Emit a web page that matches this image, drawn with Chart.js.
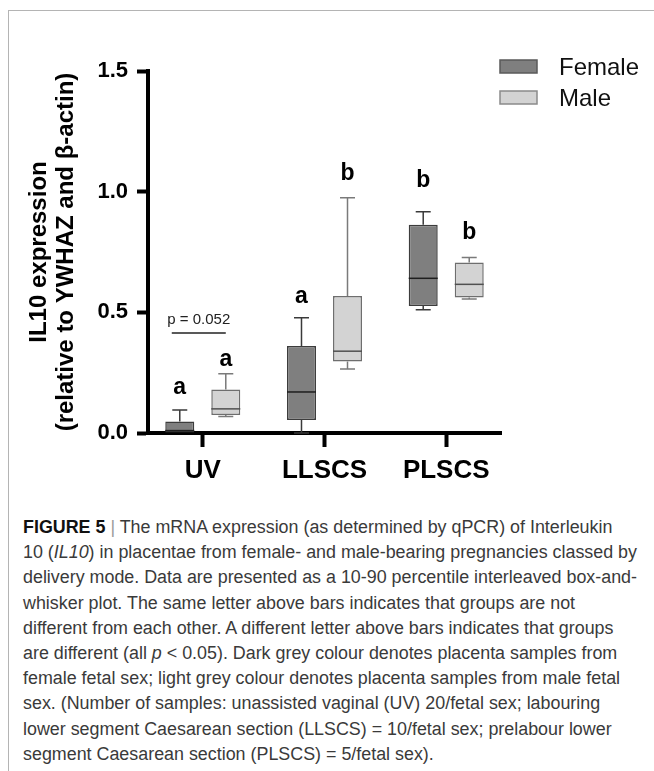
<!DOCTYPE html>
<html>
<head>
<meta charset="utf-8">
<script src="https://cdn.jsdelivr.net/npm/chart.js@4.4.0/dist/chart.umd.min.js"></script>
<style>
  body { margin: 0; background: #fff; width: 654px; height: 771px; overflow: hidden; position: relative;
         font-family: "Liberation Sans", Arial, sans-serif; }
  #frame { position: absolute; left: 8px; top: 10px; width: 700px; height: 800px;
           border-top: 1px solid #b4b4b4; border-left: 1px solid #b4b4b4; }
  #il10Chart { position: absolute; left: 0; top: 0; }
  #caption { position: absolute; left: 23px; top: 515px; font-size: 18px; line-height: 25.2px;
             color: #3a3a3a; transform-origin: 0 0; white-space: nowrap; }
  #caption div { width: max-content; }
  #caption b { color: #111; }
  #caption .sep { color: #999; }
</style>
</head>
<body>
<div id="frame"></div>
<canvas id="il10Chart" width="654" height="483"></canvas>
<div id="caption">
  <div><b>FIGURE 5</b> <span class="sep">|</span> The mRNA expression (as determined by qPCR) of Interleukin</div>
  <div>10 (<i>IL10</i>) in placentae from female- and male-bearing pregnancies classed by</div>
  <div>delivery mode. Data are presented as a 10-90 percentile interleaved box-and-</div>
  <div>whisker plot. The same letter above bars indicates that groups are not</div>
  <div>different from each other. A different letter above bars indicates that groups</div>
  <div>are different (all <i>p</i> &lt; 0.05). Dark grey colour denotes placenta samples from</div>
  <div>female fetal sex; light grey colour denotes placenta samples from male fetal</div>
  <div>sex. (Number of samples: unassisted vaginal (UV) 20/fetal sex; labouring</div>
  <div>lower segment Caesarean section (LLSCS) = 10/fetal sex; prelabour lower</div>
  <div>segment Caesarean section (PLSCS) = 5/fetal sex).</div>
</div>

<script type="text/JavaScript">

//------------------------------------------------------------------------------------------
// Data (10-90 percentile box-and-whisker, read off the figure)
//------------------------------------------------------------------------------------------

var categories = ["UV", "LLSCS", "PLSCS"];
var yTicks = [0, 0.5, 1.0, 1.5];

var femaleP10    = [0.000, 0.000, 0.511];
var femaleQ1     = [0.000, 0.054, 0.526];
var femaleMedian = [0.010, 0.170, 0.641];
var femaleQ3     = [0.048, 0.360, 0.863];
var femaleP90    = [0.095, 0.478, 0.917];

var maleP10    = [0.068, 0.265, 0.555];
var maleQ1     = [0.075, 0.296, 0.561];
var maleMedian = [0.100, 0.339, 0.616];
var maleQ3     = [0.180, 0.568, 0.707];
var maleP90    = [0.245, 0.975, 0.727];

// significance letters and the height (in y units) they sit at
var femaleLetters = ["a", "a", "b"];
var femaleLetterY = [0.186, 0.564, 1.046];
var maleLetters   = ["a", "b", "b"];
var maleLetterY   = [0.303, 1.073, 0.829];

var pLabel = "p = 0.052";
var pLineY = 0.414;
var pTextY = 0.470;

var FONT = '"Liberation Sans", Arial, sans-serif';

//------------------------------------------------------------------------------------------
function boxData(q1, q3) {
    return q1.map(function(v, i) { return { x: i + 1, y: [v, q3[i]] }; });
}

// whiskers, medians, letters and the p value bracket
var boxExtras = {
    id: "boxExtras",
    afterDatasetsDraw: function(chart) {
        var ctx = chart.ctx;
        var ys = chart.scales.y;
        chart.data.datasets.forEach(function(ds, di) {
            var meta = chart.getDatasetMeta(di);
            meta.data.forEach(function(bar, i) {
                var x = bar.x, half = bar.width / 2, cap = 7.5;
                var yLo = ys.getPixelForValue(ds.p10[i]);
                var yHi = ys.getPixelForValue(ds.p90[i]);
                var yQ1 = ys.getPixelForValue(ds.q1[i]);
                var yQ3 = ys.getPixelForValue(ds.q3[i]);
                var yMed = ys.getPixelForValue(ds.median[i]);
                ctx.save();
                ctx.lineWidth = 1.5;
                ctx.strokeStyle = ds.whiskerColor;
                ctx.beginPath();
                ctx.moveTo(x, yQ3); ctx.lineTo(x, yHi);
                ctx.moveTo(x - cap, yHi); ctx.lineTo(x + cap, yHi);
                if (yLo - yQ1 > 0.5) {
                    ctx.moveTo(x, yQ1); ctx.lineTo(x, yLo);
                    ctx.moveTo(x - cap, yLo); ctx.lineTo(x + cap, yLo);
                }
                ctx.stroke();
                ctx.strokeStyle = ds.medianColor;
                ctx.beginPath();
                ctx.moveTo(x - half, yMed); ctx.lineTo(x + half, yMed);
                ctx.stroke();
                ctx.fillStyle = "#000";
                ctx.font = "bold 23px " + FONT;
                ctx.textAlign = "center";
                ctx.textBaseline = "middle";
                ctx.fillText(ds.letters[i], x, ys.getPixelForValue(ds.letterY[i]));
                ctx.restore();
            });
        });

        // p value between the two UV boxes
        var f = chart.getDatasetMeta(0).data[0];
        var m = chart.getDatasetMeta(1).data[0];
        var x1 = f.x - 8, x2 = m.x;
        var yl = ys.getPixelForValue(pLineY);
        ctx.save();
        ctx.strokeStyle = "#222";
        ctx.lineWidth = 1.5;
        ctx.beginPath(); ctx.moveTo(x1, yl); ctx.lineTo(x2, yl); ctx.stroke();
        ctx.fillStyle = "#222";
        ctx.font = "15px " + FONT;
        ctx.textAlign = "center";
        ctx.textBaseline = "middle";
        ctx.fillText(pLabel, (x1 + x2) / 2, ys.getPixelForValue(pTextY));
        ctx.restore();
    },
    afterDraw: function(chart) {
        // legend, top right
        var ctx = chart.ctx;
        chart.data.datasets.forEach(function(ds, di) {
            var top = 60 + di * 31;
            ctx.save();
            ctx.fillStyle = ds.backgroundColor;
            ctx.strokeStyle = ds.legendBorder;
            ctx.lineWidth = 1.5;
            ctx.fillRect(500, top, 37, 13);
            ctx.strokeRect(500, top, 37, 13);
            ctx.fillStyle = "#111";
            ctx.font = "24px " + FONT;
            ctx.textAlign = "left";
            ctx.textBaseline = "middle";
            ctx.fillText(ds.label, 559, top + 8);
            ctx.restore();
        });
    }
};

var ctxC = document.getElementById("il10Chart").getContext("2d");
var il10Chart = new Chart(ctxC, {
    type: "bar",
    data: {
        datasets: [
            {
                label: "Female",
                data: boxData(femaleQ1, femaleQ3),
                backgroundColor: "#7f7f7f",
                borderColor: "#3c3c3c",
                legendBorder: "#5a5a5a",
                borderWidth: 1.5,
                borderSkipped: false,
                p10: femaleP10, q1: femaleQ1, median: femaleMedian, q3: femaleQ3, p90: femaleP90,
                letters: femaleLetters, letterY: femaleLetterY,
                whiskerColor: "#3a3a3a", medianColor: "#1e1e1e"
            },
            {
                label: "Male",
                data: boxData(maleQ1, maleQ3),
                backgroundColor: "#d3d3d3",
                borderColor: "#6e6e6e",
                legendBorder: "#8a8a8a",
                borderWidth: 1.5,
                borderSkipped: false,
                p10: maleP10, q1: maleQ1, median: maleMedian, q3: maleQ3, p90: maleP90,
                letters: maleLetters, letterY: maleLetterY,
                whiskerColor: "#7a7a7a", medianColor: "#505050"
            }
        ]
    },
    options: {
        responsive: false,
        animation: false,
        layout: { padding: { left: 0, right: 153, top: 71, bottom: 0 } },
        datasets: { bar: { categoryPercentage: 0.756, barPercentage: 0.63 } },
        plugins: {
            legend: { display: false },
            tooltip: { enabled: false }
        },
        scales: {
            x: {
                type: "linear",
                min: 0.55,
                max: 3.45,
                offset: false,
                afterBuildTicks: function(s) {
                    s.ticks = categories.map(function(c, i) { return { value: i + 1 }; });
                },
                afterFit: function(s) { s.height = 50; },
                border: { display: true, width: 4, color: "#000" },
                grid: { offset: false, drawOnChartArea: false, drawTicks: true, tickLength: 14, tickWidth: 4, tickColor: "#000" },
                ticks: {
                    autoSkip: false, maxRotation: 0, padding: 8, color: "#000",
                    font: { family: FONT, size: 26, weight: "bold" },
                    callback: function(v) { return categories[Math.round(v) - 1]; }
                }
            },
            y: {
                min: 0,
                max: 1.5,
                afterBuildTicks: function(s) {
                    s.ticks = yTicks.map(function(v) { return { value: v }; });
                },
                afterFit: function(s) { s.width = 148; },
                border: { display: true, width: 4, color: "#000" },
                grid: { drawOnChartArea: false, drawTicks: true, tickLength: 11, tickWidth: 4, tickColor: "#000" },
                ticks: {
                    padding: 9, color: "#000",
                    font: { family: FONT, size: 22, weight: "bold" },
                    callback: function(v) { return v.toFixed(1); }
                },
                title: {
                    display: true,
                    text: ["IL10 expression", "(relative to YWHAZ and \u03b2-actin)"],
                    color: "#000",
                    font: { family: FONT, size: 24, weight: "bold", lineHeight: 1.125 },
                    padding: { top: 25.5, bottom: 0 }
                }
            }
        }
    },
    plugins: [boxExtras]
});

// squeeze the caption to the width of the original (its font is a condensed light face)
var cap = document.getElementById("caption");
var widest = 0;
cap.querySelectorAll("div").forEach(function(d) {
    widest = Math.max(widest, d.getBoundingClientRect().width);
});
cap.style.transform = "scaleX(" + (614 / widest) + ")";

</script>
</body>
</html>
